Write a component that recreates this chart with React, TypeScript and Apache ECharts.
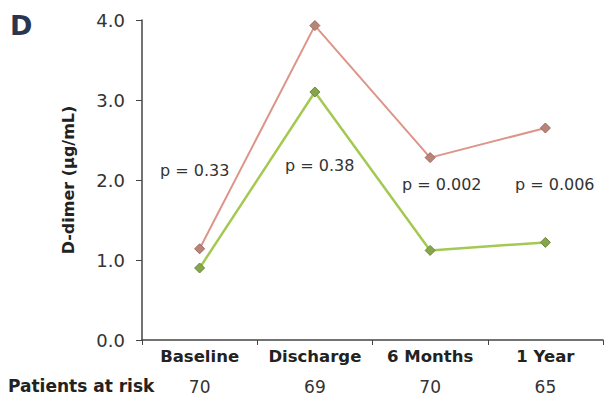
import React, { useEffect, useRef } from "react";
import * as echarts from "echarts";

const categories = ["Baseline", "Discharge", "6 Months", "1 Year"];
const atRisk = ["70", "69", "70", "65"];
const seriesHigh = [1.14, 3.93, 2.28, 2.65];
const seriesLow = [0.9, 3.1, 1.12, 1.22];
const pValues = ["p = 0.33", "p = 0.38", "p = 0.002", "p = 0.006"];
const yTicks = [0, 1, 2, 3, 4];

export default function App() {
  const ref = useRef<HTMLDivElement>(null);
  useEffect(() => {
    document.body.style.margin = "0";
    if (!ref.current) return;
    const chart = echarts.init(ref.current, null, { renderer: "svg" });
    const font = "DejaVu Sans, sans-serif";
    const pPos = [
      [160, 172],
      [285, 167],
      [402, 186],
      [515, 186],
    ];
    chart.setOption({
      animation: false,
      grid: { left: 142, right: 5, top: 20, bottom: 59 },
      xAxis: [
        {
          type: "category",
          data: categories,
          boundaryGap: true,
          axisLine: { lineStyle: { color: "#444", width: 1.5 } },
          axisTick: { show: true, length: 5, inside: false, lineStyle: { color: "#444" } },
          axisLabel: { color: "#222", fontWeight: "bold", fontSize: 16.5, fontFamily: font, margin: 8, interval: 0 },
        },
        {
          type: "category",
          data: atRisk,
          position: "bottom",
          offset: 30,
          axisLine: { show: false },
          axisTick: { show: false },
          axisLabel: { color: "#333", fontSize: 17, fontFamily: font, margin: 8, interval: 0 },
        },
      ],
      yAxis: {
        type: "value",
        min: yTicks[0],
        max: yTicks[yTicks.length - 1],
        interval: 1,
        splitLine: { show: false },
        axisLine: { show: true, lineStyle: { color: "#444", width: 1.5 } },
        axisTick: { show: true, length: 6, lineStyle: { color: "#444" } },
        axisLabel: {
          color: "#333",
          fontSize: 18,
          fontFamily: font,
          margin: 17,
          formatter: (v: number) => v.toFixed(1),
        },
        name: "D-dimer (µg/mL)",
        nameLocation: "middle",
        nameGap: 66,
        nameRotate: 90,
        nameTextStyle: { color: "#222", fontWeight: "bold", fontSize: 16, fontFamily: font },
      },
      series: [
        {
          type: "line",
          data: seriesHigh,
          symbol: "diamond",
          symbolSize: 10,
          lineStyle: { color: "#dd958a", width: 2 },
          itemStyle: { color: "#b98478", borderColor: "#9a6a5e", borderWidth: 1 },
        },
        {
          type: "line",
          data: seriesLow,
          symbol: "diamond",
          symbolSize: 10,
          lineStyle: { color: "#a4c952", width: 2.5 },
          itemStyle: { color: "#86a64c", borderColor: "#6d8a3c", borderWidth: 1 },
        },
      ],
      graphic: [
        {
          type: "text",
          left: 10,
          top: 12,
          style: { text: "D", fill: "#2a3550", fontSize: 27, fontWeight: "bold", fontFamily: font },
        },
        {
          type: "text",
          left: 8,
          top: 377,
          style: { text: "Patients at risk", fill: "#222", fontSize: 17, fontWeight: "bold", fontFamily: font },
        },
        ...pValues.map((t, i) => ({
          type: "text",
          left: pPos[i][0],
          top: pPos[i][1] - 10,
          style: { text: t, fill: "#333", fontSize: 16, fontFamily: font },
        })),
      ],
    });
    return () => chart.dispose();
  }, []);
  return <div ref={ref} style={{ width: 608, height: 399 }} />;
}
